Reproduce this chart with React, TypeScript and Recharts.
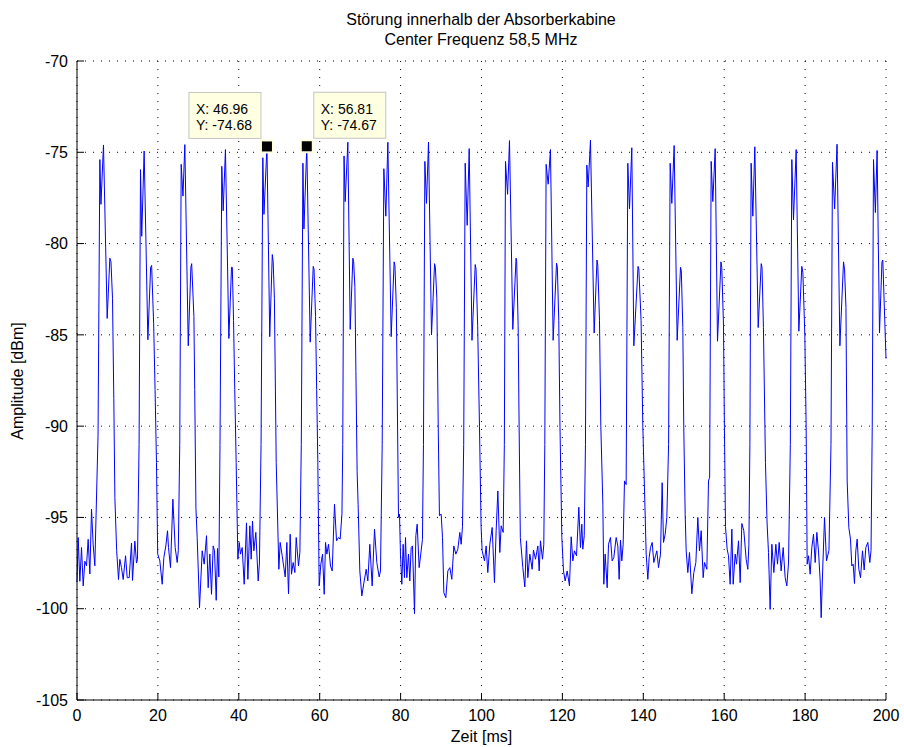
import React from 'react';
import { LineChart, Line, XAxis, YAxis, CartesianGrid, ReferenceDot } from 'recharts';

// [Zeit ms, Amplitude dBm]
type Pt = [number, number];

const lead: Pt[] = [
  [0, -98.5], [0.29, -96.1], [0.7, -98.5], [1.12, -96.65], [1.53, -98.75], [1.94, -97.4],
  [2.35, -97.65], [2.76, -96.2], [3.18, -98.1], [3.59, -94.55], [4.0, -96.5], [4.41, -97.65],
];
const pulse01: Pt[] = [
  [5.2, -90.5], [5.65, -75.4], [5.92, -77.85], [6.55, -74.6], [7.46, -84.1], [8.12, -80.8], [8.4, -81.0],
  [8.78, -83.0], [9.1, -88.5], [9.36, -93.9], [9.8, -96.8], [10.26, -98.4], [10.59, -97.3], [11.0, -97.75],
  [11.42, -98.4], [12.0, -97.1], [12.41, -98.3], [12.9, -98.3], [13.48, -96.4], [13.72, -98.45], [14.3, -96.3],
  [14.71, -97.5], [14.95, -97.3],
];
const pulse02: Pt[] = [
  [15.35, -91], [15.7, -75.95], [16.0, -79.6], [16.6, -74.93], [17.52, -85.27], [18.2, -81.3], [18.45, -81.2],
  [18.95, -84.4], [19.3, -88], [19.65, -92.0], [19.95, -97.0], [20.48, -97.38], [21.06, -98.66], [21.47, -97.2],
  [21.96, -96.56], [22.38, -95.73], [22.62, -96.65], [23.12, -97.75], [23.7, -94.0], [24.27, -96.65],
  [24.77, -97.47], [25.05, -96.8],
];
const pulse03: Pt[] = [
  [25.4, -91], [25.76, -75.66], [26.2, -77.4], [26.66, -74.58], [27.5, -85.6], [28.15, -81.3], [28.35, -81.1],
  [28.9, -84.0], [29.1, -88], [29.4, -94.5], [29.71, -96.1], [30.29, -99.95], [30.95, -96.83], [31.44, -97.56],
  [32.02, -96.0], [32.43, -98.85], [32.84, -97.0], [33.25, -99.21], [33.67, -96.56], [34.0, -96.83],
  [34.41, -99.54], [34.74, -96.7], [35.07, -98.26],
];
const pulse04: Pt[] = [
  [35.35, -91], [35.8, -75.77], [36.14, -78.2], [36.7, -74.85], [37.54, -85.2], [38.2, -81.3], [38.4, -81.3],
  [38.7, -84.2], [39.0, -88], [39.35, -92.0], [39.77, -97.29], [40.1, -96.37], [40.42, -97.01], [40.84, -96.65],
  [41.33, -98.66], [41.9, -95.3], [42.24, -98.39], [42.73, -95.46], [43.06, -97.29], [43.39, -95.2],
  [43.72, -96.83], [44.21, -95.82], [44.79, -98.48], [45.1, -97.5],
];
const pulse05: Pt[] = [
  [45.5, -91], [45.94, -75.3], [46.22, -78.4], [46.96, -74.68], [47.65, -85.1], [48.28, -80.6], [48.5, -81.0],
  [48.8, -83.0], [49.25, -92.0], [49.9, -97.84], [50.23, -96.37], [50.73, -97.1], [51.47, -98.26], [51.88, -96.37],
  [52.29, -99.18], [52.7, -95.92], [53.03, -98.11], [53.44, -97.47], [53.86, -98.02], [54.19, -96.1],
  [54.76, -97.66], [55.1, -96.9],
];
const pulse06: Pt[] = [
  [55.45, -91], [55.85, -75.6], [56.1, -79.2], [56.81, -74.67], [57.65, -85.4], [58.4, -81.25], [58.6, -81.4],
  [58.97, -84.0], [59.25, -88], [59.54, -92.0], [59.87, -98.75], [60.28, -97.56], [60.7, -97.01], [61.11, -99.21],
  [61.44, -96.37], [61.77, -97.01], [62.18, -96.47], [62.67, -97.66], [63.09, -97.93], [63.66, -94.27],
  [64.16, -96.28], [64.65, -96.1], [65.06, -96.19], [65.5, -94.8],
];
const pulse07: Pt[] = [
  [65.7, -91], [66.02, -75.2], [66.3, -77.7], [66.96, -74.45], [67.54, -84.7], [68.2, -80.8], [68.4, -81.0],
  [68.7, -82.4], [68.95, -87], [69.25, -92.5], [69.5, -94.3], [69.92, -97.93], [70.41, -99.3], [70.91, -98.6],
  [71.49, -97.84], [71.9, -98.48], [72.39, -96.47], [72.97, -98.75], [73.55, -95.64], [74.12, -97.47],
  [74.7, -98.26], [75.03, -97.93],
];
const pulse08: Pt[] = [
  [75.45, -91], [75.86, -75.9], [76.35, -78.5], [76.85, -74.45], [77.67, -85.1], [78.4, -81.0], [78.6, -81.2],
  [78.95, -83.5], [79.25, -90], [79.48, -95.0], [79.73, -94.82], [79.97, -97.01], [80.3, -98.66], [80.63, -96.47],
  [80.96, -98.3], [81.21, -96.1], [81.54, -98.3], [81.95, -97.01], [82.28, -98.48], [82.61, -96.65],
  [82.94, -96.56], [83.44, -100.27], [83.77, -96.0], [84.1, -95.37], [84.59, -97.75], [85.08, -96.83],
  [85.4, -96.2],
];
const pulse09: Pt[] = [
  [85.65, -91], [86.0, -75.5], [86.4, -77.8], [86.9, -74.45], [87.64, -85.0], [88.4, -81.1], [88.6, -81.3],
  [88.96, -83.0], [89.3, -90], [89.6, -94.9], [90.03, -94.82], [90.36, -96.1], [90.69, -99.12], [91.18, -99.4],
  [91.68, -97.93], [92.17, -97.75], [92.66, -98.39], [93.16, -96.56], [93.65, -97.01], [94.15, -96.74],
  [94.64, -95.82], [94.97, -96.47], [95.3, -95.5],
];
const pulse10: Pt[] = [
  [95.6, -91], [95.97, -75.6], [96.46, -79.0], [96.96, -74.8], [97.65, -85.3], [98.45, -81.15], [98.65, -81.4],
  [99.05, -84.5], [99.5, -90], [99.9, -95.5], [100.16, -96.83], [100.74, -97.38], [101.15, -96.56],
  [101.56, -98.02], [102.06, -96.47], [102.64, -95.55], [103.21, -98.57], [103.62, -95.73], [104.04, -93.55],
  [104.53, -96.92], [104.86, -95.46], [105.36, -95.82],
];
const pulse11: Pt[] = [
  [105.65, -91], [105.93, -75.5], [106.45, -77.3], [106.92, -74.36], [107.74, -84.7], [108.55, -80.8],
  [108.7, -81.0], [109.06, -84.5], [109.3, -90], [109.6, -96.1], [110.22, -97.75], [110.71, -98.81],
  [111.12, -96.28], [111.45, -98.3], [111.95, -97.01], [112.52, -97.84], [112.85, -96.79], [113.35, -97.29],
  [113.93, -96.56], [114.26, -97.93], [114.58, -96.28], [115.08, -97.29], [115.4, -96.5],
];
const pulse12: Pt[] = [
  [115.65, -91], [115.98, -75.66], [116.48, -76.75], [117.05, -74.85], [117.71, -85.3], [118.55, -81.07],
  [118.75, -81.3], [119.1, -84.2], [119.4, -90], [119.86, -96.1], [120.27, -97.93], [120.68, -98.48],
  [121.18, -97.93], [121.75, -98.75], [122.17, -96.06], [122.58, -97.38], [122.99, -96.83], [123.49, -97.1],
  [124.06, -94.44], [124.47, -96.65], [124.8, -95.37], [125.05, -96.74], [125.4, -96.0],
];
const pulse13: Pt[] = [
  [125.7, -91], [126.04, -75.7], [126.36, -76.9], [126.94, -74.34], [127.85, -84.9], [128.55, -80.9],
  [128.75, -81.2], [129.17, -84.2], [129.5, -90], [130.0, -94.27], [130.24, -98.66], [130.57, -97.01],
  [131.07, -98.85], [131.4, -96.47], [131.89, -96.1], [132.3, -97.38], [132.71, -97.2], [133.29, -96.1],
  [133.7, -96.56], [134.03, -98.39], [134.36, -96.24], [134.69, -97.38], [135.02, -96.47], [135.35, -93.0],
  [135.76, -93.2],
];
const pulse14: Pt[] = [
  [136.17, -75.6], [136.59, -78.1], [137.16, -74.75], [137.66, -85.6], [138.7, -81.25], [138.9, -81.4],
  [139.45, -84.2], [139.88, -90], [140.3, -93.5], [140.71, -97.01], [141.12, -98.39], [141.45, -97.2],
  [141.78, -96.65], [142.19, -96.37], [142.6, -97.47], [143.02, -97.1], [143.35, -96.83], [143.76, -97.75],
  [144.25, -97.01], [144.66, -93.1], [144.99, -96.37], [145.41, -95.92], [145.82, -95.0],
];
const pulse15: Pt[] = [
  [146.25, -91], [146.64, -75.6], [147.05, -77.8], [147.63, -74.63], [148.37, -85.3], [149.2, -81.3],
  [149.4, -81.5], [149.77, -84.6], [150.0, -90], [150.35, -94.82], [150.6, -96.83], [151.01, -98.02],
  [151.42, -96.92], [152.0, -99.18], [152.49, -98.02], [152.99, -97.47], [153.48, -95.0], [153.89, -96.83],
  [154.31, -95.73], [154.8, -98.3], [155.13, -97.47], [155.71, -97.84], [156.12, -93.0], [156.4, -92.8],
];
const pulse16: Pt[] = [
  [156.78, -75.5], [157.19, -77.7], [157.77, -74.8], [158.34, -85.35], [159.2, -81.0], [159.4, -81.3],
  [159.83, -84.5], [160.05, -90], [160.32, -95.5], [160.73, -96.74], [161.06, -97.1], [161.47, -98.66],
  [161.89, -95.64], [162.22, -98.66], [162.71, -97.01], [163.04, -97.56], [163.54, -96.28], [163.95, -98.57],
  [164.36, -95.33], [164.85, -95.73], [165.43, -97.29], [165.84, -97.84], [166.1, -96.5],
];
const pulse17: Pt[] = [
  [166.35, -91], [166.66, -75.6], [167.08, -78.5], [167.57, -74.7], [168.4, -84.6], [169.15, -81.1],
  [169.35, -81.3], [169.7, -84.6], [170.2, -92], [170.6, -95.3], [170.95, -96.92], [171.36, -100.04],
  [171.78, -96.47], [172.27, -98.02], [172.77, -96.47], [173.18, -97.56], [173.59, -96.37], [174.08, -97.93],
  [174.58, -96.65], [175.07, -98.3], [175.48, -98.75], [175.9, -97.5],
];
const pulse18: Pt[] = [
  [176.35, -91], [176.72, -75.4], [177.13, -78.7], [177.79, -74.85], [178.45, -84.8], [179.19, -81.25],
  [179.45, -81.6], [179.93, -85.0], [180.26, -90], [180.51, -97.56], [180.84, -97.1], [181.25, -98.11],
  [181.66, -96.65], [182.08, -95.92], [182.49, -97.47], [182.9, -95.82], [183.31, -96.83], [183.73, -98.48],
  [183.97, -100.49], [184.38, -97.66], [184.8, -95.0], [185.29, -97.38], [185.9, -96.8],
];
const pulse19: Pt[] = [
  [186.4, -91], [186.77, -75.55], [187.3, -78.1], [187.9, -74.56], [188.6, -85.6], [189.5, -81.0],
  [189.75, -81.4], [190.1, -83.5], [190.4, -93], [190.81, -95.55], [191.22, -96.19], [191.55, -97.66],
  [191.88, -97.56], [192.21, -98.62], [192.54, -96.83], [192.87, -96.19], [193.28, -97.84], [193.7, -98.3],
  [194.19, -96.83], [194.6, -97.88], [195.02, -96.65], [195.51, -96.37], [196.0, -97.47], [196.3, -96.8],
];
const pulse20: Pt[] = [
  [196.6, -90], [196.91, -75.4], [197.37, -78.3], [197.8, -74.9], [198.39, -84.9], [199.0, -81.0],
  [199.21, -80.9], [200, -86.3],
];

const xTicks = [0, 20, 40, 60, 80, 100, 120, 140, 160, 180, 200];
const yTicks = [-105, -100, -95, -90, -85, -80, -75, -70];

// Datenpunkte der beiden Cursor
const cursors = [
  { t: 46.96, v: -74.68, side: 'left' },
  { t: 56.81, v: -74.67, side: 'right' },
];

const trace = [
  lead, pulse01, pulse02, pulse03, pulse04, pulse05, pulse06, pulse07, pulse08, pulse09, pulse10,
  pulse11, pulse12, pulse13, pulse14, pulse15, pulse16, pulse17, pulse18, pulse19, pulse20,
].flat().map(([t, v]) => ({ t, v }));

const FONT = '"Liberation Sans", Arial, Helvetica, sans-serif';

const cursorShape = (t: number, v: number, side: string) => (props: any) => {
  const { cx, cy } = props;
  const bx = side === 'left' ? cx - 78 : cx + 7;
  const by = cy - 54;
  return (
    <g>
      <rect x={bx} y={by} width={72} height={46} fill="#ffffe1" stroke="#c4c4c4" />
      <text x={bx + 7} y={by + 22} fontSize={14} fill="#000" fontFamily={FONT}>{`X: ${t.toFixed(2)}`}</text>
      <text x={bx + 7} y={by + 38} fontSize={14} fill="#000" fontFamily={FONT}>{`Y: ${v.toFixed(2)}`}</text>
      <rect x={cx - 7} y={cy - 7} width={14} height={14} fill="#ffffe0" />
      <rect x={cx - 5} y={cy - 5} width={10} height={10} fill="#000" />
    </g>
  );
};

export default function App() {
  return (
    <div style={{ position: 'absolute', left: 0, top: 0, width: 904, height: 747, background: '#fff', fontFamily: FONT }}>
      <LineChart width={904} height={747} data={trace} margin={{ top: 61, right: 18, bottom: 17, left: 0 }}>
        <CartesianGrid xAxisId="b" yAxisId="l" stroke="#000" strokeDasharray="1 7" />
        <XAxis
          xAxisId="b" dataKey="t" type="number" domain={[0, 200]} ticks={xTicks} interval={0}
          height={30} tickSize={-7} tickMargin={17} stroke="#000"
          tick={{ fill: '#000', fontSize: 16 }}
        />
        <XAxis
          xAxisId="o" orientation="top" dataKey="t" type="number" domain={[0, 200]} ticks={xTicks}
          interval={0} height={0} tickSize={-7} tick={false} stroke="#000"
        />
        <YAxis
          yAxisId="l" type="number" domain={[-105, -70]} ticks={yTicks} interval={0}
          width={77} tickSize={-7} tickMargin={16} stroke="#000"
          tick={{ fill: '#000', fontSize: 16 }}
        />
        <YAxis
          yAxisId="r" orientation="right" type="number" domain={[-105, -70]} ticks={yTicks}
          interval={0} width={0} tickSize={-7} tick={false} stroke="#000"
        />
        <Line
          xAxisId="o" yAxisId="r" dataKey="v" type="linear" stroke="none" dot={false}
          isAnimationActive={false} activeDot={false}
        />
        <Line
          xAxisId="b" yAxisId="l" dataKey="v" type="linear" stroke="#0000ff" strokeWidth={1}
          dot={false} activeDot={false} isAnimationActive={false}
        />
        {cursors.map((c) => (
          <ReferenceDot
            key={c.t} xAxisId="b" yAxisId="l" x={c.t} y={c.v} r={5}
            shape={cursorShape(c.t, c.v, c.side)}
          />
        ))}
      </LineChart>

      <div style={{ position: 'absolute', left: 0, width: 904, top: 10, textAlign: 'center', fontSize: 16, lineHeight: '20px', color: '#000' }}>
        <div style={{ paddingLeft: 58 }}>Störung innerhalb der Absorberkabine</div>
        <div style={{ paddingLeft: 58 }}>Center Frequenz 58,5 MHz</div>
      </div>
      <div style={{ position: 'absolute', left: 77, width: 809, top: 727, textAlign: 'center', fontSize: 16, lineHeight: '20px', color: '#000' }}>
        Zeit [ms]
      </div>
      <div
        style={{
          position: 'absolute', left: 18, top: 381, width: 0, height: 0, color: '#000', fontSize: 16,
        }}
      >
        <div style={{ position: 'absolute', transform: 'translate(-50%, -50%) rotate(-90deg)', whiteSpace: 'nowrap', lineHeight: '20px' }}>
          Amplitude [dBm]
        </div>
      </div>
    </div>
  );
}
